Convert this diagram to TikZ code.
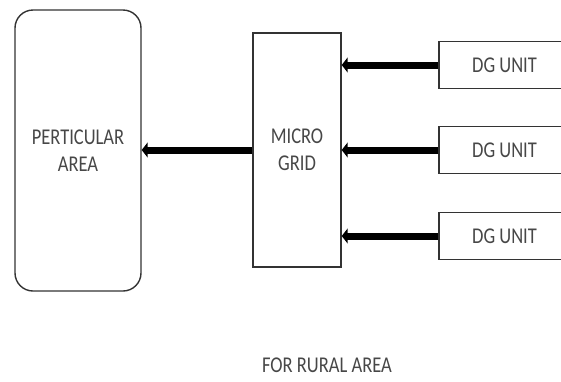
\documentclass[tikz,border=0pt]{standalone}
\usepackage{fontspec}
\setmainfont{Carlito}
\usepackage{tikz}
\usetikzlibrary{arrows.meta,positioning}
\newcommand{\tall}[1]{\scalebox{1}[1.22]{#1}}

\begin{document}
\begin{tikzpicture}[
    x=1pt, y=-1pt,
    font=\fontsize{18.5}{27}\selectfont,
    box/.style={draw=black!80, line width=1.4pt, align=center, inner sep=0pt, text=black!72},
    area/.style={box, rounded corners=18pt, minimum width=126pt, minimum height=281pt},
    grid/.style={box, minimum width=88pt, minimum height=234pt},
    unit/.style={box, minimum width=131pt, minimum height=47pt},
    flow/.style={-{Triangle[length=6pt,width=15pt]}, line width=7pt, black}
]
\useasboundingbox (0,0) rectangle (561,381);
\node[area] (area) at (78,150.5) {\tall{PERTICULAR}\\\tall{AREA}};
\node[grid] (mgrid) at (297,150) {\tall{MICRO}\\\tall{GRID}};
\node[unit] (dg1) at (504.5,65) {\tall{DG UNIT}};
\node[unit] (dg2) at (504.5,150) {\tall{DG UNIT}};
\node[unit] (dg3) at (504.5,236) {\tall{DG UNIT}};
\node[text=black!72] (title) at (327,365) {\tall{FOR RURAL AREA}};
\draw[flow] (dg1.west) -- (mgrid.east |- dg1.west);
\draw[flow] (dg2.west) -- (mgrid.east |- dg2.west);
\draw[flow] (dg3.west) -- (mgrid.east |- dg3.west);
\draw[flow] (mgrid.west) -- (area.east |- mgrid.west);
\end{tikzpicture}
\end{document}
